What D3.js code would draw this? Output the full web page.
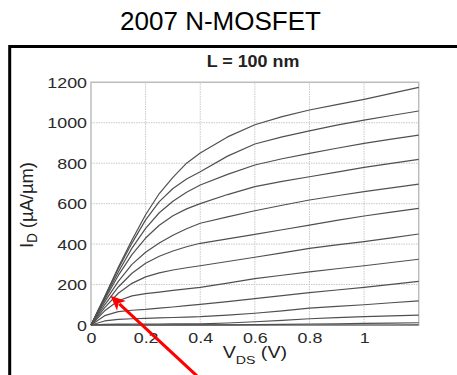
<!DOCTYPE html>
<html><head><meta charset="utf-8">
<script src="https://cdn.jsdelivr.net/npm/d3@7"></script>
<style>body{margin:0;background:#fff}svg{display:block}</style>
</head><body>
<script>
// ---- data ----
const vds = [0,0.05,0.1,0.15,0.2,0.25,0.3,0.35,0.4,0.5,0.6,0.7,0.8,0.9,1.0,1.1,1.2];
const id00 = [0,140,285,420,545,650,730,800,850,930,990,1030,1063,1090,1116,1145,1175];
const id01 = [0,138,278,405,520,610,675,722,758,835,895,930,960,988,1013,1036,1058];
const id02 = [0,132,262,380,478,555,612,656,692,745,791,822,849,874,898,919,939];
const id03 = [0,125,245,348,430,493,540,574,600,645,684,710,733,756,779,799,819];
const id04 = [0,114,216,300,360,405,444,476,503,535,565,592,618,639,659,678,697];
const id05 = [0,100,188,256,305,340,366,387,404,426,448,471,494,517,539,558,577];
const id06 = [0,86,157,206,238,258,272,283,293,314,335,357,379,396,412,431,450];
const id07 = [0,70,120,144,155,163,171,179,186,207,229,246,263,278,293,309,325];
const id08 = [0,46,66,73,77,83,89,96,102,116,130,145,160,173,186,201,216];
const id09 = [0,20,28,31,33,35,37,39,41,49,58,70,83,92,100,110,119];
const id10 = [0,3,4,5,5,5,6,6,6,10,16,23,31,36,41,45,49];
const id11 = [0,0,0,0,0,0,0,1,1,1,2,3,5,6,8,9,11];
const id12 = [0,0,0,0,0,0,0,0,0,0,0,0,0,0,0,0,1];
const curves = [id00,id01,id02,id03,id04,id05,id06,id07,id08,id09,id10,id11,id12];
const xTicks = [0,0.2,0.4,0.6,0.8,1];
const yTicks = [0,200,400,600,800,1000,1200];
const xDomain = [0,1.2];
const yDomain = [0,1200];
const titleText = "2007 N-MOSFET";
const subText = "L = 100 nm";
// annotation arrow, in data units (tail below axis, tip near curves)
const arrowFrom = [0.388,-252];
const arrowTo = [0.0714,145];

// ---- layout ----
const W = 457, H = 375;
const FONT = "'Liberation Sans', Arial, Helvetica, sans-serif";
const SX = 1.23; // horizontal stretch of chart text
const svg = d3.select("body").append("svg").attr("width",W).attr("height",H);

const x = d3.scaleLinear().domain(xDomain).range([91,418.7]);
const y = d3.scaleLinear().domain(yDomain).range([325,82.3]);

// slide title
svg.append("text").attr("x",220.5).attr("y",30).attr("text-anchor","middle")
  .attr("font-family",FONT).attr("font-size",26).attr("fill","#000").text(titleText);

// black frame (extends beyond the viewport)
svg.append("rect").attr("x",9.7).attr("y",46.5).attr("width",W+20).attr("height",H+20)
  .attr("fill","none").attr("stroke","#000").attr("stroke-width",3);

// gridlines
const g = svg.append("g");
g.selectAll(".gx").data(xTicks.filter(d=>d>0)).join("line")
  .attr("x1",d=>x(d)).attr("x2",d=>x(d)).attr("y1",y(yDomain[0])).attr("y2",y(yDomain[1]))
  .attr("stroke","#c8c8c8").attr("stroke-width",1).attr("stroke-dasharray","1.5,1");
g.selectAll(".gy").data(yTicks.filter(d=>d>0)).join("line")
  .attr("x1",x(xDomain[0])).attr("x2",x(xDomain[1])).attr("y1",d=>y(d)).attr("y2",d=>y(d))
  .attr("stroke","#c8c8c8").attr("stroke-width",1).attr("stroke-dasharray","1.5,1");
// plot border
g.append("rect").attr("x",x(xDomain[0])).attr("y",y(yDomain[1]))
  .attr("width",x(xDomain[1])-x(xDomain[0])).attr("height",y(yDomain[0])-y(yDomain[1]))
  .attr("fill","none").attr("stroke","#bdbdbd").attr("stroke-width",1.5);

// axes (tick labels only, via d3 axis)
const yAxis = svg.append("g").attr("transform",`translate(${x(0)},0)`)
  .call(d3.axisLeft(y).tickValues(yTicks).tickSize(0).tickPadding(4).tickFormat(d3.format("d")));
yAxis.select(".domain").remove();
yAxis.selectAll("text").attr("font-family",FONT).attr("font-size",14.5).attr("fill","#2a2a2a")
  .attr("dy","0.36em")
  .each(function(){
    const t = d3.select(this);
    const xx = +t.attr("x");
    t.attr("x",null).attr("transform",`translate(${xx},0) scale(${SX},1)`);
  });

const xAxis = svg.append("g").attr("transform",`translate(0,${y(0)})`)
  .call(d3.axisBottom(x).tickValues(xTicks).tickSize(0).tickPadding(0).tickFormat(d=>d===0?"0":d===1?"1":d3.format(".1f")(d)));
xAxis.select(".domain").remove();
xAxis.selectAll("text").attr("font-family",FONT).attr("font-size",14.5).attr("fill","#2a2a2a")
  .attr("dy",null).attr("y",null)
  .attr("transform",`translate(0,18) scale(${SX},1)`);

// curves
const line = d3.line().x((d,i)=>x(vds[i])).y(d=>y(d));
svg.append("g").selectAll("path").data(curves).join("path")
  .attr("d",line).attr("fill","none").attr("stroke","#505050").attr("stroke-width",1.2)
  .attr("stroke-linejoin","round");

// subtitle
svg.append("text").attr("transform",`translate(253,67) scale(1.12,1)`).attr("text-anchor","middle")
  .attr("font-family",FONT).attr("font-weight","bold").attr("font-size",16).attr("fill","#222")
  .text(subText);

// y axis label
const yl = svg.append("text").attr("transform",`translate(33,205) rotate(-90) scale(1.15,1.2)`)
  .attr("text-anchor","middle").attr("font-family",FONT).attr("font-size",16).attr("fill","#222");
yl.append("tspan").text("I");
yl.append("tspan").attr("font-size",11.5).attr("dy",3.5).text("D");
yl.append("tspan").attr("dy",-3.5).text(" (\u00b5A/\u00b5m)");

// x axis label
const xl = svg.append("text").attr("transform",`translate(${x(0.6)},358) scale(${SX},1)`)
  .attr("text-anchor","middle").attr("font-family",FONT).attr("font-size",16).attr("fill","#222");
xl.append("tspan").text("V");
xl.append("tspan").attr("font-size",11.5).attr("dy",6).text("DS");
xl.append("tspan").attr("dy",-6).text(" (V)");

// red arrow
const ax1 = x(arrowFrom[0]), ay1 = y(arrowFrom[1]), ax2 = x(arrowTo[0]), ay2 = y(arrowTo[1]);
const ang = Math.atan2(ay2-ay1, ax2-ax1);
const hl = 15, hw = 6.5;
const bx = ax2 - hl*Math.cos(ang), by = ay2 - hl*Math.sin(ang);
svg.append("line").attr("x1",ax1).attr("y1",ay1).attr("x2",bx+3*Math.cos(ang)).attr("y2",by+3*Math.sin(ang))
  .attr("stroke","#ff0000").attr("stroke-width",3);
svg.append("path").attr("d",`M${ax2},${ay2}L${bx - hw*Math.sin(ang)},${by + hw*Math.cos(ang)}L${bx + 4*Math.cos(ang)},${by+4*Math.sin(ang)}L${bx + hw*Math.sin(ang)},${by - hw*Math.cos(ang)}Z`)
  .attr("fill","#ff0000");
</script>
</body></html>
